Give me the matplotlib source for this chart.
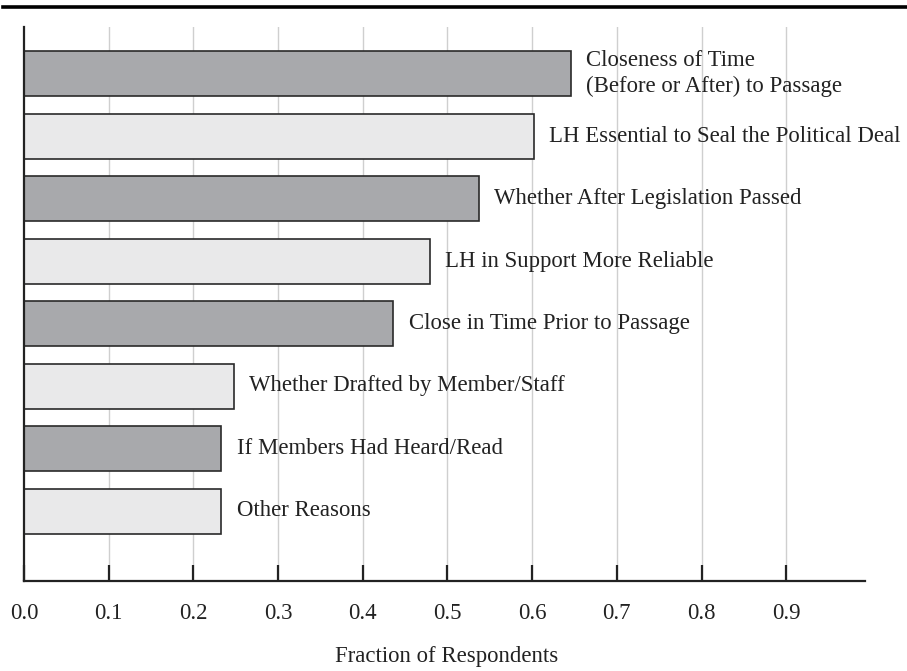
import numpy as np
import matplotlib.pyplot as plt
from matplotlib.lines import Line2D

plt.rcParams['font.family'] = ['Liberation Serif', 'DejaVu Serif']

# dados (de cima para baixo)
razoes = ['Closeness of Time\n(Before or After) to Passage',
          'LH Essential to Seal the Political Deal',
          'Whether After Legislation Passed',
          'LH in Support More Reliable',
          'Close in Time Prior to Passage',
          'Whether Drafted by Member/Staff',
          'If Members Had Heard/Read',
          'Other Reasons']
fracao = [0.646, 0.602, 0.537, 0.479, 0.436, 0.248, 0.233, 0.233]
ticks_x = [0.0, 0.1, 0.2, 0.3, 0.4, 0.5, 0.6, 0.7, 0.8, 0.9]

escuro = '#a8a9ac'
claro = '#e9e9ea'

fig = plt.figure(figsize=(9.07, 6.71), dpi=100)
ax = fig.add_axes([24/907, 90/671, 841/907, 554/671])

n = len(razoes)
ypos = np.arange(n)[::-1]          # primeira barra no topo
cores = [escuro if i % 2 == 0 else claro for i in range(n)]

for g in ticks_x[1:]:
    ax.axvline(g, color='#cfcfcf', lw=1.0, zorder=0)

ax.barh(ypos, fracao, height=0.72, color=cores, edgecolor='#2a2a2a',
        linewidth=1.2, zorder=2)

for y, v, txt in zip(ypos, fracao, razoes):
    ax.annotate(txt, xy=(v, y), xytext=(11, 0), textcoords='offset points',
                ha='left', va='center', fontsize=16.4, color='#222222',
                linespacing=1.3, zorder=3)

ax.set_xlim(0, 0.993)
ax.set_ylim(-1.12, 7.744)
ax.set_yticks([])
ax.set_xticks(ticks_x)
ax.set_xticklabels(['%.1f' % t for t in ticks_x], fontsize=16.4, color='#222222')
ax.tick_params(axis='x', direction='in', length=11.5, width=1.6,
               color='#222222', pad=16)

for s in ['top', 'right']:
    ax.spines[s].set_visible(False)
for s in ['left', 'bottom']:
    ax.spines[s].set_linewidth(1.6)
    ax.spines[s].set_color('#222222')

ax.set_xlabel('Fraction of Respondents', fontsize=16.4, color='#222222')
ax.xaxis.set_label_coords(423/841, -65/554)

# linha preta grossa no topo
fig.add_artist(Line2D([3/907, 1.0], [1 - 6.75/671, 1 - 6.75/671],
                      transform=fig.transFigure, color='black', lw=2.6))

fig.savefig('out.png', dpi=100)
